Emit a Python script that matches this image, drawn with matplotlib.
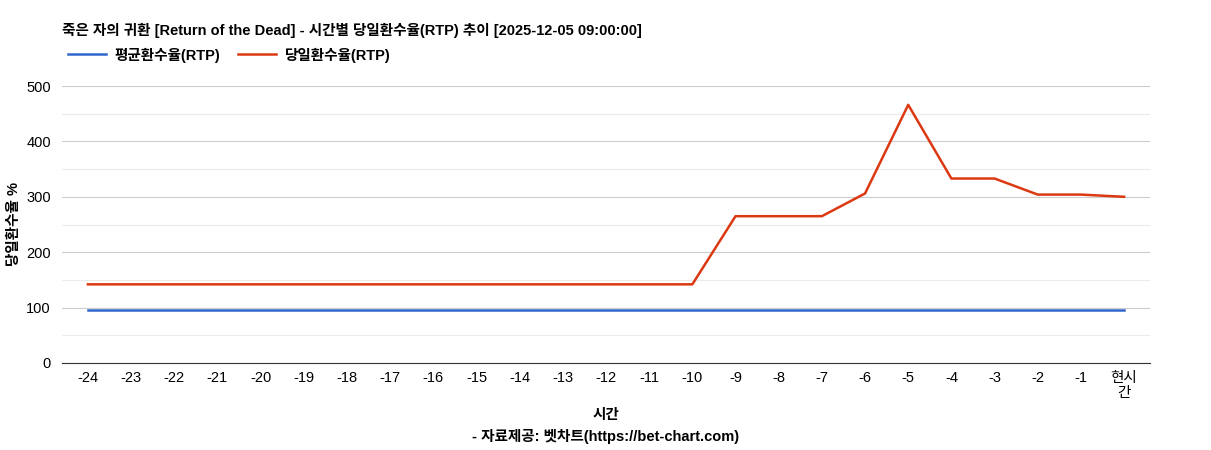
import matplotlib
matplotlib.use('Agg')
import matplotlib.pyplot as plt
import numpy as np

plt.rcParams['font.family'] = ['Liberation Sans', 'Noto Sans CJK KR']

# Data
hours = ['-24', '-23', '-22', '-21', '-20', '-19', '-18', '-17', '-16', '-15', '-14', '-13',
         '-12', '-11', '-10', '-9', '-8', '-7', '-6', '-5', '-4', '-3', '-2', '-1', '현시\n간']
avg_rtp = [96] * 25
daily_rtp = [142, 142, 142, 142, 142, 142, 142, 142, 142, 142, 142, 142, 142, 142, 142,
             265, 265, 265, 306, 466, 333, 333, 304, 304, 300]

fig = plt.figure(figsize=(12.11, 4.5), dpi=100)
ax = fig.add_axes([62 / 1211, 1 - 363 / 450, (1150 - 62) / 1211, (363 - 86) / 450])

x = np.arange(len(hours))
ax.plot(x, avg_rtp, color='#3366cc', lw=1.8, label='평균환수율(RTP)')
ax.plot(x, daily_rtp, color='#dc3912', lw=1.8, label='당일환수율(RTP)')

ax.set_xlim(-0.6, len(hours) - 0.4)
ax.set_ylim(0, 500)
ax.set_yticks(range(0, 501, 100))
ax.set_yticks(range(50, 500, 100), minor=True)
ax.grid(axis='y', which='major', color='#cccccc', lw=0.8)
ax.grid(axis='y', which='minor', color='#ebebeb', lw=0.8)
ax.set_axisbelow(True)
ax.set_xticks(x)
ax.set_xticklabels(hours, fontsize=10.5, linespacing=1.1)
ax.tick_params(axis='y', labelsize=10.5, length=0, pad=8)
ax.tick_params(axis='x', length=0, pad=6)
ax.tick_params(which='minor', length=0)
for s in ['top', 'right', 'left']:
    ax.spines[s].set_visible(False)
ax.spines['bottom'].set_color('#333333')

fig.text(14 / 1211, 1 - 224 / 450, '당일환수율 %', rotation=90, ha='center', va='center',
         fontsize=10.5, fontweight='bold')
fig.text(606 / 1211, 1 - 415 / 450, '시간', ha='center', va='center', fontsize=10.5, fontweight='bold')
fig.text(606 / 1211, 1 - 437 / 450, '- 자료제공: 벳차트(https://bet-chart.com)', ha='center', va='center',
         fontsize=10.5, fontweight='bold')
fig.text(62 / 1211, 1 - 30 / 450, '죽은 자의 귀환 [Return of the Dead] - 시간별 당일환수율(RTP) 추이 [2025-12-05 09:00:00]',
         ha='left', va='center', fontsize=10.5, fontweight='bold')

fig.legend(loc='center left', bbox_to_anchor=(55 / 1211, 1 - 55 / 450), ncol=2, frameon=False,
           prop={'size': 10.5, 'weight': 'bold'}, handlelength=2.6, columnspacing=1.2, handletextpad=0.6)

fig.savefig('out.png', dpi=100)
